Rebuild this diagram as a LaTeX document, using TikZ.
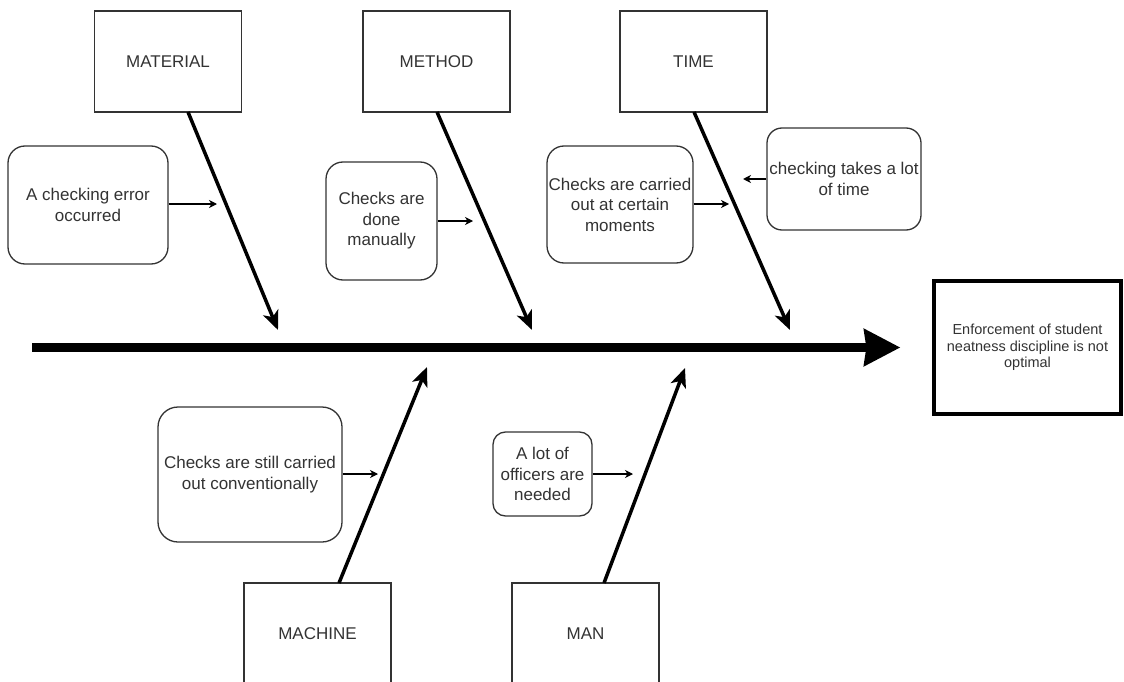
\documentclass[tikz,border=0pt]{standalone}
\usepackage{fontspec}
\setmainfont{Liberation Sans}
\usetikzlibrary{arrows.meta}
\definecolor{ink}{HTML}{333333}
\tikzset{
  catbox/.style={draw=ink, line width=1.3pt, text=ink, inner sep=0pt,
    minimum width=147pt, minimum height=101pt,
    font=\fontsize{17}{20.5}\selectfont},
  causebox/.style={draw=ink, line width=1.3pt, text=ink, inner sep=0pt,
    rounded corners=17pt, align=center,
    font=\fontsize{17}{20.5}\selectfont},
  effectbox/.style={draw=black, line width=3.2pt, text=ink, inner sep=0pt,
    minimum width=187pt, minimum height=133pt, align=center,
    font=\fontsize{14.5}{16.5}\selectfont},
  bone/.style={draw=black, line width=3.5pt,
    -{Stealth[length=19pt,width=16pt,inset=5pt]}},
  spine/.style={draw=black, line width=9pt,
    -{Stealth[length=36pt,width=36pt,inset=2pt]}},
  feed/.style={draw=black, line width=1.3pt,
    -{Stealth[length=8pt,width=8pt,inset=2.5pt]}}
}
\begin{document}
\begin{tikzpicture}[x=1pt,y=-1pt]
\useasboundingbox (0,0) rectangle (1124,682);
\fill[white] (0,0) rectangle (1124,682);
\clip (0,0) rectangle (1124,682);

% category boxes
\node[catbox] (mat)  at (168,61.5)   {MATERIAL};
\node[catbox] (meth) at (436.5,61.5) {METHOD};
\node[catbox] (time) at (693.5,61.5) {TIME};
\node[catbox] (mach) at (317.5,633.5) {MACHINE};
\node[catbox] (man)  at (585.5,633.5) {MAN};

% effect
\node[effectbox] (eff) at (1027.5,347.5)
  {Enforcement of student\\neatness discipline is not\\optimal};

% causes
\node[causebox, minimum width=160pt, minimum height=118pt] (err) at (88,205)
  {A checking error\\occurred};
\node[causebox, minimum width=111pt, minimum height=118pt] (manual) at (381.5,221)
  {Checks are\\done\\manually};
\node[causebox, minimum width=146pt, minimum height=117pt] (moments) at (620,204.5)
  {Checks are carried\\out at certain\\moments};
\node[causebox, minimum width=154pt, minimum height=102pt, rounded corners=15pt] (lot) at (844,179)
  {checking takes a lot\\of time};
\node[causebox, minimum width=184pt, minimum height=135pt, rounded corners=20pt] (conv) at (250,474.5)
  {Checks are still carried\\out conventionally};
\node[causebox, minimum width=99pt, minimum height=84pt, rounded corners=12.5pt] (off) at (542.5,474)
  {A lot of\\officers are\\needed};

% bone end points
\coordinate (matS)  at (188,112);
\coordinate (matT)  at (278,330);
\coordinate (methS) at (437,112);
\coordinate (methT) at (532,330);
\coordinate (timeS) at (694,112);
\coordinate (timeT) at (790,330);
\coordinate (machS) at (339,583);
\coordinate (machT) at (427,367);
\coordinate (manS)  at (604,583);
\coordinate (manT)  at (685,368);
\coordinate (spineL) at (32,347.5);

% spine and bones
\draw[spine] (spineL) -- ([xshift=-32pt]eff.west);
\draw[bone] (matS) -- (matT);
\draw[bone] (methS) -- (methT);
\draw[bone] (timeS) -- (timeT);
\draw[bone] (machS) -- (machT);
\draw[bone] (manS) -- (manT);

% cause arrows
\coordinate (errT) at (217,204);
\coordinate (manualT) at (473,221);
\coordinate (momentsT) at (729,204);
\coordinate (lotT) at (743,179);
\coordinate (convT) at (378,474);
\coordinate (offT) at (633,474);
\draw[feed] (err.east |- errT) -- (errT);
\draw[feed] (manual.east) -- (manualT);
\draw[feed] (moments.east |- momentsT) -- (momentsT);
\draw[feed] (lot.west) -- (lotT);
\draw[feed] (conv.east |- convT) -- (convT);
\draw[feed] (off.east) -- (offT);
\end{tikzpicture}
\end{document}
